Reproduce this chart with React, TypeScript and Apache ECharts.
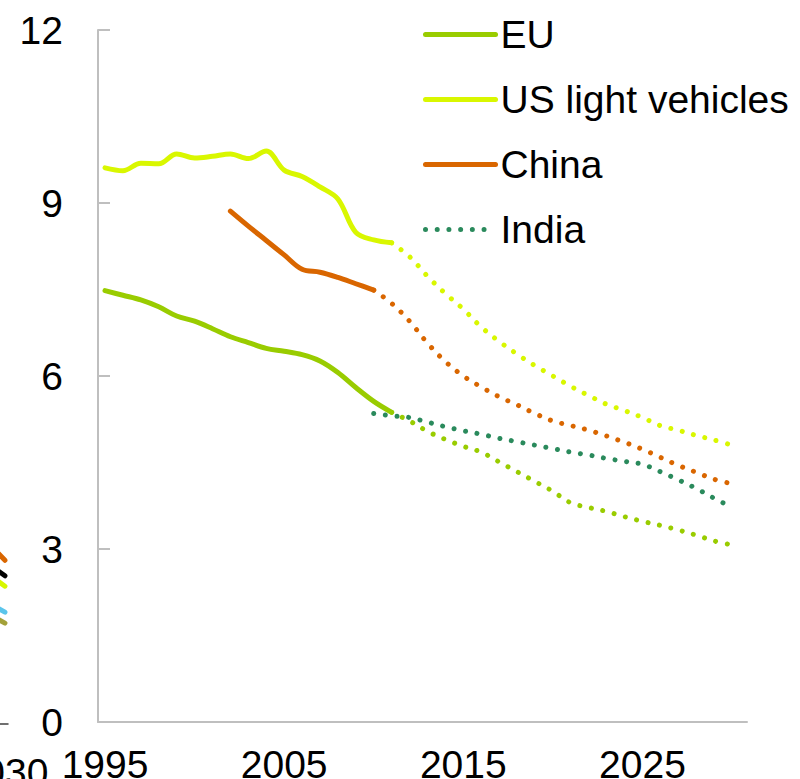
import React, { useEffect, useRef } from "react";
import * as echarts from "echarts";

// ---- Data ----
const X_LABELS = [1995, 2005, 2015, 2025];

const EU_HIST_START = 1995;
const euHist = [7.48, 7.4, 7.32, 7.2, 7.04, 6.95, 6.82, 6.68, 6.58, 6.48, 6.43, 6.37, 6.26, 6.06, 5.8, 5.56, 5.37];
const EU_PROJ_START = 2011;
const euProj = [5.37, 5.22, 5.04, 4.9, 4.78, 4.68, 4.51, 4.34, 4.17, 4.0, 3.8, 3.72, 3.65, 3.56, 3.48, 3.41, 3.33, 3.24, 3.14, 3.07];

const US_HIST_START = 1995;
const usHist = [9.61, 9.56, 9.69, 9.68, 9.85, 9.78, 9.81, 9.85, 9.77, 9.9, 9.57, 9.46, 9.28, 9.07, 8.49, 8.36, 8.31];
const US_PROJ_START = 2011;
const usProj = [8.31, 8.07, 7.73, 7.43, 7.16, 6.85, 6.6, 6.38, 6.18, 6.0, 5.82, 5.66, 5.51, 5.4, 5.28, 5.14, 5.06, 4.97, 4.89, 4.8];

const CHINA_HIST_START = 2002;
const chinaHist = [8.86, 8.6, 8.35, 8.1, 7.85, 7.8, 7.71, 7.6, 7.49];
const CHINA_PROJ_START = 2010;
const chinaProj = [7.49, 7.26, 6.95, 6.57, 6.25, 6.0, 5.81, 5.64, 5.5, 5.35, 5.22, 5.14, 5.06, 4.96, 4.85, 4.73, 4.59, 4.45, 4.33, 4.21, 4.13];

const INDIA_PROJ_START = 2010;
const indiaProj = [5.35, 5.31, 5.28, 5.2, 5.12, 5.05, 4.99, 4.92, 4.86, 4.8, 4.74, 4.68, 4.63, 4.57, 4.52, 4.47, 4.34, 4.2, 4.05, 3.88, 3.72];

// Fragments of the neighbouring (cropped) panel on the left edge
const NEIGHBOR_YEARS = [2029, 2030];
const NEIGHBOR_LABELS = [2030];
const nbOrange = [3.16, 2.84];
const nbBlack = [2.79, 2.57];
const nbYellow = [2.62, 2.39];
const nbBlue = [2.12, 1.94];
const nbOlive = [1.92, 1.75];

const LEGEND_NAMES = ["EU", "US light vehicles", "China", "India"];

const C_EU = "#99CC00";
const C_US = "#D9F700";
const C_CHINA = "#D96600";
const C_INDIA = "#2A8A5C";

const FONT = "'Liberation Sans', Arial, Helvetica, sans-serif";
const DOTS: number[] = [0.01, 11.7];

function toPairs(start: number, arr: number[]) {
  return arr.map((v, i) => [start + i, v]);
}

function solid(name: string, color: string, start: number, arr: number[]) {
  return {
    type: "line",
    name,
    data: toPairs(start, arr),
    smooth: 0.35,
    symbol: "none",
    lineStyle: { color, width: 5, cap: "round", join: "round" },
    itemStyle: { color },
    z: 3,
  };
}

function dotted(name: string, color: string, start: number, arr: number[]) {
  return {
    type: "line",
    name,
    data: toPairs(start, arr),
    smooth: 0.35,
    symbol: "none",
    lineStyle: { color, width: 5, type: DOTS, cap: "round" },
    itemStyle: { color },
    z: 3,
  };
}

function neighbor(color: string, arr: number[]) {
  return {
    type: "line",
    xAxisIndex: 1,
    yAxisIndex: 1,
    data: NEIGHBOR_YEARS.map((y, i) => [y, arr[i]]),
    symbol: "none",
    lineStyle: { color, width: 5, cap: "round" },
    itemStyle: { color },
    silent: true,
  };
}

export default function App() {
  const ref = useRef<HTMLDivElement>(null);

  useEffect(() => {
    if (!ref.current) return;
    const chart = echarts.init(ref.current, undefined, { renderer: "svg" });
    const option: any = {
      animation: false,
      backgroundColor: "#ffffff",
      textStyle: { fontFamily: FONT },
      grid: [
        { left: 98, right: 53, top: 30, bottom: 57, outerBoundsMode: "none", containLabel: false },
        { left: -13, right: 792, top: 32, bottom: 55, outerBoundsMode: "none", containLabel: false },
      ],
      legend: {
        data: LEGEND_NAMES,
        orient: "vertical",
        left: 423,
        top: 15,
        padding: 0,
        itemWidth: 70,
        itemHeight: 5,
        itemGap: 26,
        selectedMode: false,
        lineStyle: { width: 5, cap: "round" },
        itemStyle: { opacity: 0 },
        textStyle: { fontSize: 39, color: "#000000", fontFamily: FONT },
      },
      xAxis: [
        {
          type: "value",
          gridIndex: 0,
          min: 1994.609,
          max: 2030.837,
          splitLine: { show: false },
          axisLine: { show: true, lineStyle: { color: "#BFBFBF", width: 2 } },
          axisTick: { show: false },
          axisLabel: {
            customValues: X_LABELS,
            fontSize: 39,
            color: "#000000",
            fontFamily: FONT,
            margin: 23,
            formatter: (v: number) => String(v),
          },
        },
        {
          type: "value",
          gridIndex: 1,
          min: 2029,
          max: 2030.17,
          splitLine: { show: false },
          axisLine: { show: true, lineStyle: { color: "#404040", width: 1.5 } },
          axisTick: { show: false },
          axisLabel: {
            customValues: NEIGHBOR_LABELS,
            fontSize: 39,
            color: "#000000",
            fontFamily: FONT,
            margin: 29,
            formatter: (v: number) => String(v),
          },
        },
      ],
      yAxis: [
        {
          type: "value",
          gridIndex: 0,
          min: 0,
          max: 12,
          interval: 3,
          splitLine: { show: false },
          axisLine: { show: true, lineStyle: { color: "#BFBFBF", width: 2 } },
          axisTick: { show: true, inside: true, length: 12, lineStyle: { color: "#BFBFBF", width: 2 } },
          axisLabel: { fontSize: 39, color: "#000000", fontFamily: FONT, margin: 35 },
        },
        {
          type: "value",
          gridIndex: 1,
          min: 0,
          max: 12,
          show: false,
        },
      ],
      series: [
        solid("EU", C_EU, EU_HIST_START, euHist),
        solid("US light vehicles", C_US, US_HIST_START, usHist),
        solid("China", C_CHINA, CHINA_HIST_START, chinaHist),
        dotted("India", C_INDIA, INDIA_PROJ_START, indiaProj),
        dotted("EU", C_EU, EU_PROJ_START, euProj),
        dotted("US light vehicles", C_US, US_PROJ_START, usProj),
        dotted("China", C_CHINA, CHINA_PROJ_START, chinaProj),
        neighbor("#D96600", nbOrange),
        neighbor("#000000", nbBlack),
        neighbor("#D7F700", nbYellow),
        neighbor("#5BC5EB", nbBlue),
        neighbor("#A3A13A", nbOlive),
      ],
    };
    chart.setOption(option);
    return () => chart.dispose();
  }, []);

  return (
    <div
      ref={ref}
      style={{ position: "fixed", left: 0, top: 0, width: 800, height: 779, background: "#fff" }}
    />
  );
}
